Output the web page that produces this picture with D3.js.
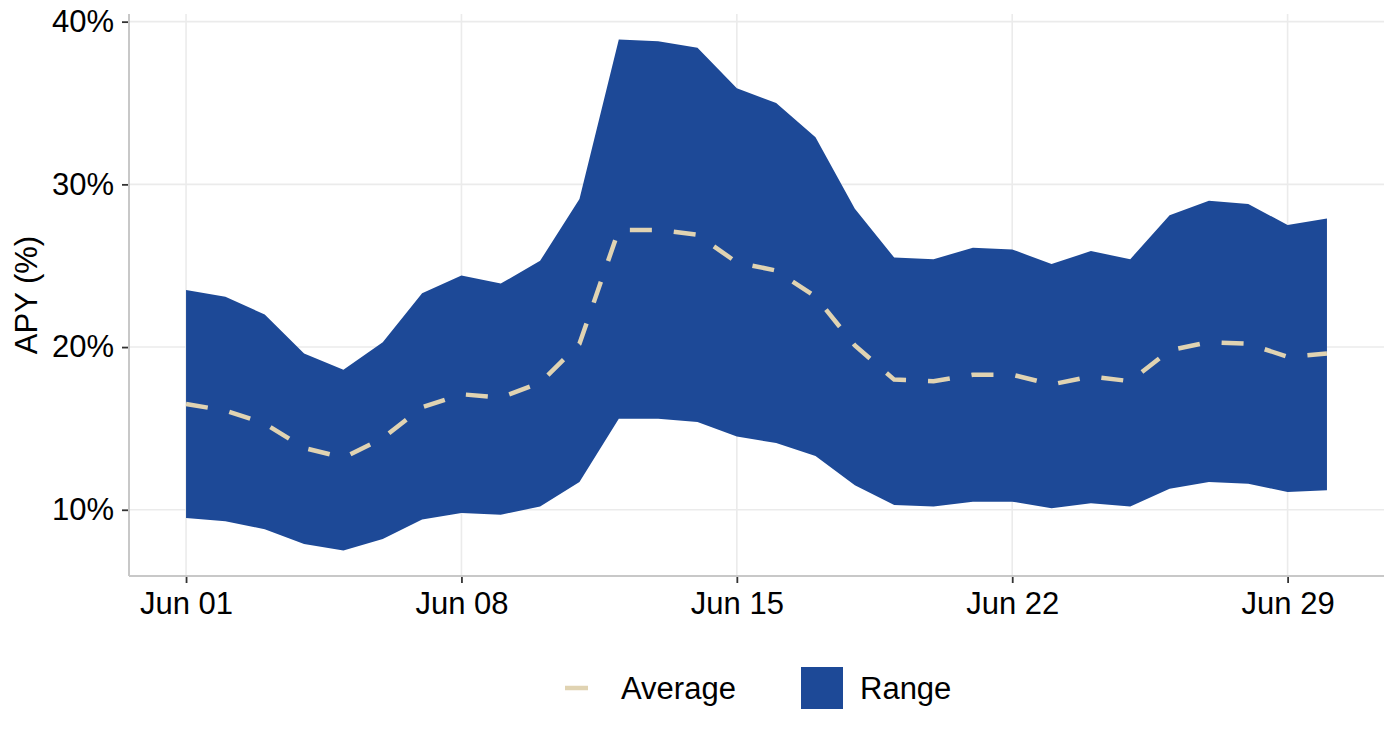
<!DOCTYPE html>
<html>
<head>
<meta charset="utf-8">
<script src="https://cdn.jsdelivr.net/npm/d3@7"></script>
<style>
  body { margin: 0; background: #fff; }
  text { font-family: "Liberation Sans", Arial, sans-serif; }
</style>
</head>
<body>
<div id="chart"></div>
<script>
// daily APY values for June (percent)
let days = d3.range(1, 31);
let upper = [23.5, 23.1, 22.0, 19.6, 18.6, 20.3, 23.3, 24.4, 23.9, 25.3,
             29.1, 38.9, 38.8, 38.4, 35.9, 35.0, 32.9, 28.5, 25.5, 25.4,
             26.1, 26.0, 25.1, 25.9, 25.4, 28.1, 29.0, 28.8, 27.5, 27.9];
let lower = [9.5, 9.3, 8.8, 7.9, 7.5, 8.2, 9.4, 9.8, 9.7, 10.2,
             11.7, 15.6, 15.6, 15.4, 14.5, 14.1, 13.3, 11.5, 10.3, 10.2,
             10.5, 10.5, 10.1, 10.4, 10.2, 11.3, 11.7, 11.6, 11.1, 11.2];
let average = [16.5, 16.1, 15.3, 13.8, 13.2, 14.4, 16.3, 17.1, 16.9, 17.8,
               20.2, 27.2, 27.2, 26.9, 25.2, 24.7, 23.1, 20.1, 18.0, 17.9,
               18.3, 18.3, 17.7, 18.2, 17.9, 19.8, 20.3, 20.2, 19.4, 19.6];
let yTicks = [10, 20, 30, 40];
let xTickDays = [1, 8, 15, 22, 29];

let svgWidth = 1400;
let svgHeight = 740;
let margin = {top: 14, right: 16, bottom: 164, left: 129};
let chartWidth = svgWidth - margin.left - margin.right;
let chartHeight = svgHeight - margin.top - margin.bottom;

let fillColor = '#1d4997';
let lineColor = '#e0d3b2';
let fontSize = '31px';

let svg = d3.select('#chart').append('svg')
    .attr('width', svgWidth)
    .attr('height', svgHeight);

let g = svg.append('g')
    .attr('transform', `translate(${margin.left}, ${margin.top})`);

let data = days.map((d, i) => ({
    date: new Date(2023, 5, d),
    lo: lower[i],
    hi: upper[i],
    avg: average[i]
}));

// ggplot style 5% expansion
let xExt = d3.extent(data, d => d.date);
let xPad = (xExt[1] - xExt[0]) * 0.05;
let x = d3.scaleTime()
    .domain([new Date(+xExt[0] - xPad), new Date(+xExt[1] + xPad)])
    .range([0, chartWidth]);

let yMin = d3.min(lower), yMax = d3.max(upper);
let yPad = (yMax - yMin) * 0.05;
let y = d3.scaleLinear()
    .domain([yMin - yPad, yMax + yPad])
    .range([chartHeight, 0]);

let xTickDates = xTickDays.map(d => new Date(2023, 5, d));

// grid
g.append('g').selectAll('line.h')
    .data(yTicks).enter().append('line')
    .attr('x1', 0).attr('x2', chartWidth)
    .attr('y1', d => y(d)).attr('y2', d => y(d))
    .attr('stroke', '#ebebeb').attr('stroke-width', 1.6);
g.append('g').selectAll('line.v')
    .data(xTickDates).enter().append('line')
    .attr('y1', 0).attr('y2', chartHeight)
    .attr('x1', d => x(d)).attr('x2', d => x(d))
    .attr('stroke', '#ebebeb').attr('stroke-width', 1.6);

// range ribbon
let area = d3.area()
    .x(d => x(d.date))
    .y0(d => y(d.lo))
    .y1(d => y(d.hi));
g.append('path')
    .datum(data)
    .attr('d', area)
    .attr('fill', fillColor);

// average line
let line = d3.line()
    .x(d => x(d.date))
    .y(d => y(d.avg));
g.append('path')
    .datum(data)
    .attr('d', line)
    .attr('fill', 'none')
    .attr('stroke', lineColor)
    .attr('stroke-width', 4.5)
    .attr('stroke-dasharray', '22,22');

// axes
let xAxis = d3.axisBottom(x)
    .tickValues(xTickDates)
    .tickFormat(d3.timeFormat('Jun %d'))
    .tickSize(7).tickPadding(9);
let yAxis = d3.axisLeft(y)
    .tickValues(yTicks)
    .tickFormat(d => d + '%')
    .tickSize(7).tickPadding(8);

let xg = g.append('g')
    .attr('transform', `translate(0, ${chartHeight})`)
    .call(xAxis);
let yg = g.append('g').call(yAxis);

[xg, yg].forEach(ax => {
    ax.select('.domain').remove();
    ax.selectAll('line').attr('stroke', '#333').attr('stroke-width', 1.8);
    ax.selectAll('text')
        .attr('fill', '#000')
        .style('font-size', fontSize);
});

g.append('line')
    .attr('x1', 0).attr('x2', chartWidth)
    .attr('y1', chartHeight).attr('y2', chartHeight)
    .attr('stroke', '#c8c8c8').attr('stroke-width', 2);
g.append('line')
    .attr('x1', 0).attr('x2', 0)
    .attr('y1', 0).attr('y2', chartHeight)
    .attr('stroke', '#c8c8c8').attr('stroke-width', 2);

// y title
svg.append('text')
    .attr('transform', `translate(37, ${margin.top + chartHeight / 2}) rotate(-90)`)
    .attr('text-anchor', 'middle')
    .style('font-size', fontSize)
    .text('APY (%)');

// legend
let legend = svg.append('g').attr('transform', 'translate(0, 688)');
legend.append('line')
    .attr('x1', 565).attr('x2', 588)
    .attr('y1', 0).attr('y2', 0)
    .attr('stroke', lineColor).attr('stroke-width', 4.5);
legend.append('text')
    .attr('x', 621).attr('y', 0).attr('dy', '0.35em')
    .style('font-size', fontSize)
    .text('Average');
legend.append('rect')
    .attr('x', 801).attr('y', -21)
    .attr('width', 42).attr('height', 42)
    .attr('fill', fillColor);
legend.append('text')
    .attr('x', 860).attr('y', 0).attr('dy', '0.35em')
    .style('font-size', fontSize)
    .text('Range');
</script>
</body>
</html>
